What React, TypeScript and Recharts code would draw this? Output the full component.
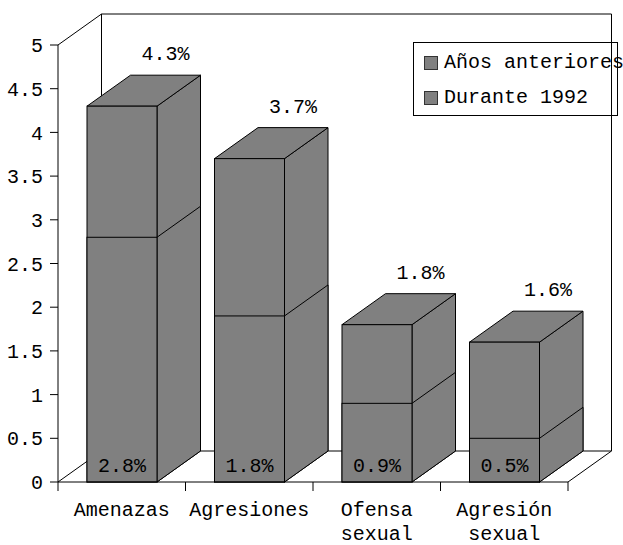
import React from 'react';
import { BarChart, Bar, XAxis, YAxis, ReferenceArea, LabelList, Legend } from 'recharts';

const categories = ['Amenazas', 'Agresiones', 'Ofensa sexual', 'Agresión sexual'];
const anosAnteriores = [4.3, 3.7, 1.8, 1.6];
const durante1992 = [2.8, 1.9, 0.9, 0.5];
const anosAnterioresLabels = ['4.3%', '3.7%', '1.8%', '1.6%'];
const durante1992Labels = ['2.8%', '1.8%', '0.9%', '0.5%'];
const yTicks = [0, 0.5, 1, 1.5, 2, 2.5, 3, 3.5, 4, 4.5, 5];
const seriesNames = ['Años anteriores', 'Durante 1992'];

const FONT = '"Liberation Mono", "Courier New", monospace';
const FONT_SIZE = 20;
const BAR_FILL = '#808080';
const LINE = '#000000';
const DX = 43.5;
const DY = 31;

const data = categories.map((c, i) => ({
  category: c,
  anos: anosAnteriores[i],
  durante: durante1992[i],
  anosLabel: anosAnterioresLabels[i],
  duranteLabel: durante1992Labels[i],
}));

const makeBox = (withTop: boolean) => (props: any) => {
  const { x, y, width: w, height: h } = props;
  if (x == null || y == null || !w || h == null) return <g />;
  const side = `${x + w},${y} ${x + w + DX},${y - DY} ${x + w + DX},${y + h - DY} ${x + w},${y + h}`;
  const top = `${x},${y} ${x + DX},${y - DY} ${x + w + DX},${y - DY} ${x + w},${y}`;
  return (
    <g>
      <polygon points={side} fill={BAR_FILL} stroke={LINE} strokeWidth={1} strokeLinejoin="miter" />
      {withTop && <polygon points={top} fill={BAR_FILL} stroke={LINE} strokeWidth={1} />}
      <rect x={x} y={y} width={w} height={h} fill={BAR_FILL} stroke={LINE} strokeWidth={1} />
    </g>
  );
};

const WallShape = (props: any) => {
  const { x, y, width: w, height: h } = props;
  if (x == null || y == null) return <g />;
  const b = y + h;
  const n = categories.length;
  const ticks: React.ReactNode[] = [];
  for (let i = 0; i <= n; i++) {
    const tx = x + (i * w) / n;
    ticks.push(<line key={i} x1={tx} y1={b} x2={tx} y2={b + 9} stroke={LINE} strokeWidth={1} />);
  }
  return (
    <g>
      <polygon
        points={`${x + DX},${y - DY} ${x + w + DX},${y - DY} ${x + w + DX},${b - DY} ${x + DX},${b - DY}`}
        fill="#ffffff"
        stroke={LINE}
        strokeWidth={1}
      />
      <line x1={x} y1={y} x2={x + DX} y2={y - DY} stroke={LINE} strokeWidth={1} />
      <line x1={x} y1={b} x2={x + DX} y2={b - DY} stroke={LINE} strokeWidth={1} />
      <line x1={x + w} y1={b} x2={x + w + DX} y2={b - DY} stroke={LINE} strokeWidth={1} />
      {ticks}
    </g>
  );
};

const TopLabel = (props: any) => {
  const { x, y, width, value } = props;
  if (x == null) return null;
  return (
    <text x={x + width / 2 + DX} y={y - DY - 15} textAnchor="middle" fontFamily={FONT} fontSize={FONT_SIZE} fill="#000">
      {value}
    </text>
  );
};

const BottomLabel = (props: any) => {
  const { x, y, width, height, value } = props;
  if (x == null) return null;
  return (
    <text x={x + width / 2} y={y + height - 10} textAnchor="middle" fontFamily={FONT} fontSize={FONT_SIZE} fill="#000">
      {value}
    </text>
  );
};

const CategoryTick = (props: any) => {
  const { x, y, payload } = props;
  const lines = String(payload.value).split(' ');
  return (
    <g>
      {lines.map((ln, i) => (
        <text key={i} x={x} y={y + 34 + i * 24} textAnchor="middle" fontFamily={FONT} fontSize={FONT_SIZE} fill="#000">
          {ln}
        </text>
      ))}
    </g>
  );
};

const LegendBox = () => (
  <div
    style={{
      position: 'relative',
      width: 205,
      height: 74,
      boxSizing: 'border-box',
      border: '1px solid #000',
      fontFamily: FONT,
      fontSize: FONT_SIZE,
      lineHeight: '20px',
      color: '#000',
      whiteSpace: 'nowrap',
    }}
  >
    {seriesNames.map((name, i) => (
      <div key={name} style={{ position: 'absolute', left: 0, top: 10 + i * 35, height: 20 }}>
        <span
          style={{
            position: 'absolute',
            left: 10,
            top: 3,
            width: 14,
            height: 14,
            boxSizing: 'border-box',
            background: BAR_FILL,
            border: '1px solid #333',
          }}
        />
        <span style={{ position: 'absolute', left: 30, top: 0 }}>{name}</span>
      </div>
    ))}
  </div>
);

export default function App() {
  return (
    <div style={{ position: 'absolute', left: 0, top: 0, width: 623, height: 545, background: '#fff' }}>
      <BarChart
        width={623}
        height={545}
        data={data}
        margin={{ top: 45, right: 55, bottom: 0, left: 0 }}
        barSize={70}
        barGap={-70}
      >
        <XAxis
          dataKey="category"
          type="category"
          height={63}
          interval={0}
          tickLine={false}
          tickSize={0}
          tickMargin={0}
          axisLine={{ stroke: LINE, strokeWidth: 1 }}
          tick={<CategoryTick />}
        />
        <YAxis
          type="number"
          domain={[0, 5]}
          ticks={yTicks}
          interval={0}
          width={58}
          tickSize={8}
          tickMargin={7}
          tickLine={{ stroke: LINE, strokeWidth: 1 }}
          axisLine={{ stroke: LINE, strokeWidth: 1 }}
          tick={{ fontFamily: FONT, fontSize: FONT_SIZE, fill: '#000' }}
          tickFormatter={(v: number) => String(v)}
        />
        <ReferenceArea y1={0} y2={5} ifOverflow="visible" shape={(p: any) => <WallShape {...p} />} />
        <Legend
          layout="vertical"
          align="center"
          verticalAlign="middle"
          wrapperStyle={{ left: 413, top: 42, width: 205, height: 74, margin: 0, padding: 0 }}
          content={() => <LegendBox />}
        />
        <Bar dataKey="anos" name={seriesNames[0]} fill={BAR_FILL} isAnimationActive={false} shape={makeBox(true)}>
          <LabelList dataKey="anosLabel" content={<TopLabel />} />
        </Bar>
        <Bar dataKey="durante" name={seriesNames[1]} fill={BAR_FILL} isAnimationActive={false} shape={makeBox(false)}>
          <LabelList dataKey="duranteLabel" content={<BottomLabel />} />
        </Bar>
      </BarChart>
    </div>
  );
}
